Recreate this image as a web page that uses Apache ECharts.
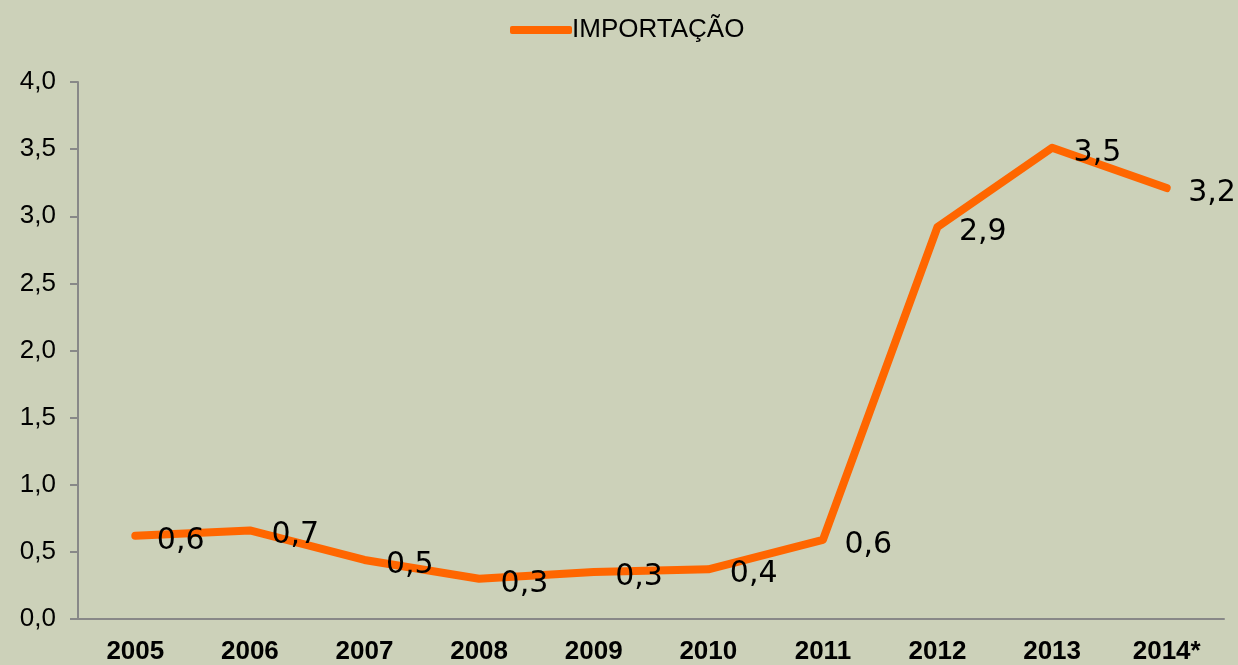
<!DOCTYPE html>
<html>
<head>
<meta charset="utf-8">
<script src="https://cdn.jsdelivr.net/npm/echarts@6/dist/echarts.min.js"></script>
<style>
  html, body { margin: 0; padding: 0; background: #ccd1b9; }
  #chart { width: 1238px; height: 665px; }
</style>
</head>
<body>
<div id="chart"></div>
<script>
// anos e valores
const anos = ['2005', '2006', '2007', '2008', '2009', '2010', '2011', '2012', '2013', '2014*']
const importacao = [0.62, 0.66, 0.44, 0.30, 0.35, 0.37, 0.59, 2.92, 3.51, 3.21]
const rotulos = ['0,6', '0,7', '0,5', '0,3', '0,3', '0,4', '0,6', '2,9', '3,5', '3,2']

const chart = echarts.init(document.getElementById('chart'))

chart.setOption({
  backgroundColor: '#ccd1b9',
  animation: false,
  legend: {
    data: ['IMPORTAÇÃO'],
    left: 505,
    top: 12,
    itemWidth: 62,
    itemHeight: 8,
    icon: 'roundRect',
    itemStyle: { color: '#ff6600' },
    textStyle: { fontFamily: 'Liberation Sans', fontSize: 26, color: '#000', padding: [0, 0, 0, -5] }
  },
  grid: { left: 78, right: 14, top: 82, bottom: 44 },
  xAxis: {
    type: 'category',
    data: anos,
    boundaryGap: true,
    axisLine: { lineStyle: { color: '#888', width: 2 } },
    axisTick: { length: 8, lineStyle: { color: '#888', width: 2 } },
    axisLabel: { color: '#000', fontFamily: 'Liberation Sans', fontSize: 26, fontWeight: 'bold', margin: 20 }
  },
  yAxis: {
    type: 'value',
    min: 0,
    max: 4,
    interval: 0.5,
    splitLine: { show: false },
    axisLine: { show: true, lineStyle: { color: '#888', width: 2 } },
    axisTick: { show: true, length: 8, lineStyle: { color: '#888', width: 2 } },
    axisLabel: {
      color: '#000', fontFamily: 'Liberation Sans', fontSize: 26, margin: 22,
      formatter: v => v.toFixed(1).replace('.', ',')
    }
  },
  series: [{
    name: 'IMPORTAÇÃO',
    type: 'line',
    data: importacao,
    symbol: 'circle',
    symbolSize: 1,
    showSymbol: true,
    itemStyle: { color: 'rgba(255,102,0,0)' },
    lineStyle: { width: 8, color: '#ff6600', cap: 'round', join: 'round' },
    label: {
      show: true,
      position: 'right',
      distance: 21,
      offset: [0, 5],
      fontFamily: 'DejaVu Sans',
      fontSize: 30,
      color: '#000',
      formatter: p => rotulos[p.dataIndex]
    }
  }]
})
</script>
</body>
</html>
